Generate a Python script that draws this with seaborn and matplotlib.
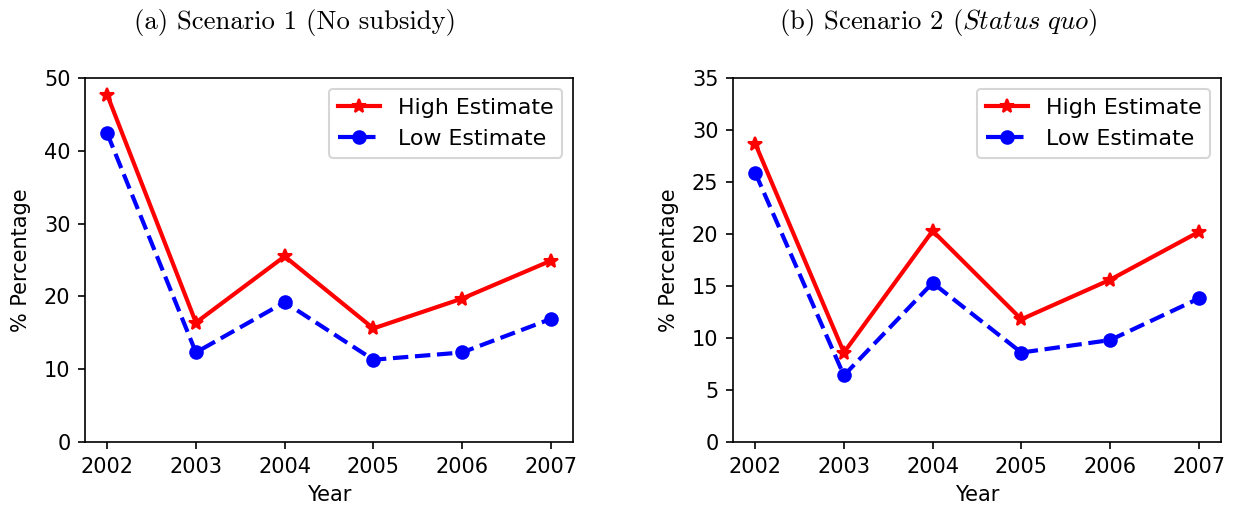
import matplotlib
matplotlib.use("Agg")
import matplotlib.pyplot as plt
import numpy as np
import pandas as pd
import seaborn as sns

years = [2002, 2003, 2004, 2005, 2006, 2007]

# Scenario 1 (no subsidy)
s1_high = [47.7, 16.4, 25.5, 15.6, 19.7, 24.9]
s1_low = [42.4, 12.3, 19.2, 11.3, 12.3, 16.9]

# Scenario 2 (status quo)
s2_high = [28.7, 8.6, 20.3, 11.8, 15.6, 20.2]
s2_low = [25.9, 6.4, 15.3, 8.6, 9.8, 13.8]

titles = ["(a) Scenario 1 (No subsidy)", r"(b) Scenario 2 ($\it{Status\ quo}$)"]
title_x = [295, 938]
y_limits = [(0, 50), (0, 35)]

plt.rcParams["font.family"] = ["DejaVu Sans"]
plt.rcParams["mathtext.fontset"] = "cm"
FS = 10
W, H = 1237, 510
DPI = 150

fig = plt.figure(figsize=(W / DPI, H / DPI), dpi=DPI)
ax1 = fig.add_axes([85 / W, 1 - 442 / H, 488 / W, 364 / H])
ax2 = fig.add_axes([733 / W, 1 - 442 / H, 488 / W, 364 / H])

panels = [(ax1, s1_high, s1_low), (ax2, s2_high, s2_low)]
for i, (ax, high, low) in enumerate(panels):
    df = pd.DataFrame({"Year": years, "High": high, "Low": low})
    sns.lineplot(data=df, x="Year", y="High", ax=ax, color="red", marker="*",
                 markersize=7, markeredgewidth=1, markeredgecolor="red",
                 linewidth=2, label="High Estimate")
    sns.lineplot(data=df, x="Year", y="Low", ax=ax, color="blue", marker="o",
                 markersize=7, markeredgewidth=0, linestyle="--",
                 linewidth=2, label="Low Estimate")
    ax.set_ylim(*y_limits[i])
    ax.set_xticks(years)
    ax.set_xticklabels([str(y) for y in years])
    ax.tick_params(labelsize=FS)
    ax.set_xlabel("Year", fontsize=FS)
    ax.set_ylabel("% Percentage", fontsize=FS, labelpad=6)
    ax.legend(loc="upper right", fontsize=10.6, handlelength=1.9)
    fig.text(title_x[i] / W, 1 - 22 / H, titles[i], ha="center", va="center",
             fontsize=12.8, family="cmr10")

fig.savefig("out.png", dpi=DPI)
